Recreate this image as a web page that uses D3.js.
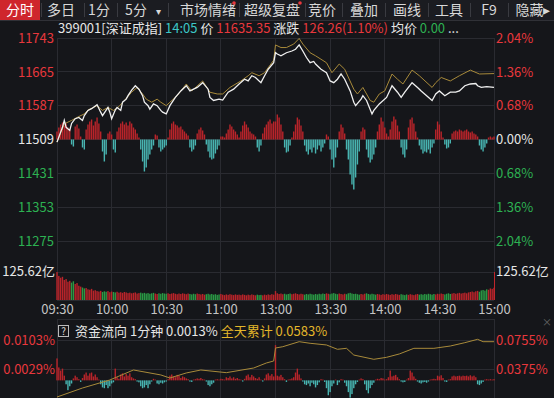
<!DOCTYPE html>
<html>
<head>
<meta charset="utf-8">
<script src="https://cdn.jsdelivr.net/npm/d3@7"></script>
<style>
body { margin: 0; background: #15161a; }
svg { display: block; }
text { font-family: "Noto Sans CJK SC", "Noto Sans", sans-serif; }
</style>
</head>
<body>
<div id="chart"></div>
<script>
// ---- data ----
var priceTicks = [11743, 11665, 11587, 11509, 11431, 11353, 11275];
var pctTicks = [2.04, 1.36, 0.68, 0, -0.68, -1.36, -2.04];
var timeIdx = [0, 30, 60, 90, 120, 150, 180, 210, 240];
var timeLabels = ["09:30", "10:00", "10:30", "11:00", "13:00", "13:30", "14:00", "14:30", "15:00"];
var flowTicks = [0.0103, 0.0029];
var cumTicks = [0.0755, 0.0375];

// [minute index, price]
var pricePts = [[0,11503],[2,11526],[3,11537],[4,11553],[5,11537],[7,11530],[8,11546],[10,11557],[12,11560],[14,11553],
  [15,11564],[17,11576],[19,11580],[22,11589],[24,11572],[25,11564],[28,11583],[29,11572],[30,11557],[32,11577],
  [33,11583],[35,11576],[36,11595],[38,11602],[39,11610],[41,11623],[43,11633],[45,11625],[47,11610],[48,11595],
  [50,11587],[51,11579],[53,11591],[55,11587],[57,11576],[58,11572],[60,11568],[62,11587],[65,11606],[68,11621],
  [71,11633],[73,11621],[77,11629],[80,11640],[83,11625],[84,11606],[86,11599],[89,11602],[91,11600],[94,11618],
  [97,11625],[100,11637],[103,11648],[105,11644],[107,11656],[109,11652],[112,11640],[114,11656],[116,11671],[119,11686],
  [120,11709],[121,11706],[123,11702],[126,11709],[129,11713],[131,11717],[133,11727],[135,11713],[137,11698],[139,11686],
  [141,11689],[142,11683],[145,11671],[148,11663],[150,11644],[152,11640],[154,11648],[156,11660],[158,11648],[161,11621],
  [163,11595],[164,11587],[167,11602],[168,11610],[170,11599],[173,11568],[174,11576],[177,11591],[181,11606],[184,11633],
  [187,11618],[189,11606],[191,11618],[195,11640],[198,11629],[200,11621],[203,11610],[206,11599],[208,11614],[210,11621],
  [213,11610],[216,11618],[219,11618],[221,11621],[224,11633],[227,11637],[230,11638],[231,11633],[233,11629],[236,11631],[240,11629]];

var leadPts = [[0,11503],[2,11524],[4,11545],[8,11553],[12,11562],[15,11568],[17,11577],[22,11587],[25,11576],[28,11583],
  [31,11576],[34,11585],[37,11599],[41,11618],[44,11629],[47,11614],[49,11602],[52,11595],[55,11602],[57,11595],
  [60,11587],[62,11595],[66,11610],[71,11637],[74,11621],[80,11644],[84,11618],[88,11614],[91,11614],[95,11629],
  [101,11644],[105,11656],[107,11663],[111,11656],[114,11663],[119,11692],[120,11727],[123,11721],[126,11721],[130,11729],
  [133,11742],[135,11729],[139,11709],[142,11702],[148,11686],[151,11663],[155,11683],[158,11671],[163,11625],[165,11614],
  [168,11629],[172,11599],[174,11595],[177,11614],[180,11621],[184,11660],[187,11648],[190,11637],[195,11669],[199,11656],
  [206,11629],[208,11640],[211,11652],[216,11644],[221,11656],[227,11669],[232,11660],[240,11661]];

// buy/sell force bars, one per minute
var forceBars = [8,12,15,17,14,16,12,10,-5,-7,13,15,11,3,-8,-10,10,15,18,20,14,18,22,16,8,-12,-22,-15,6,8,5,-10,-13,
  8,12,16,18,15,17,14,18,16,12,10,6,2,-10,-22,-32,-28,-20,-15,-10,-6,5,4,-8,-12,-10,-8,-6,2,
  10,16,18,15,14,12,13,10,8,6,4,-8,-12,-10,-6,6,10,12,9,5,-5,-12,-18,-20,-19,-14,-10,-6,3,3,2,
  6,10,15,13,10,8,5,2,8,14,18,15,12,8,6,5,3,-8,-12,-6,6,12,15,18,20,16,18,
  18,25,22,15,8,-8,-13,-12,-6,2,8,15,22,20,14,8,-6,-12,-15,-10,-13,-8,-14,-10,-6,-12,-8,-4,5,3,
  -10,-20,-28,-18,-8,8,15,12,6,-10,-20,-35,-45,-50,-38,-25,-12,8,12,10,-10,-18,-23,-20,-15,-8,
  8,15,22,18,12,6,3,10,18,23,20,14,8,-8,-15,-18,-10,12,20,22,16,8,2,-6,-10,-14,-12,-13,-10,-14,-8,-4,
  10,18,15,8,2,-5,-9,-8,-4,6,8,9,8,10,9,8,9,10,8,7,8,6,5,3,-6,-10,-12,-8,-4,2,3,2,3];

// volume per minute, 亿
var volume = [125.62,108,100,104,90,94,82,86,78,84,72,76,64,60,56,52,54,48,46,50,
  42,44,40,38,41,36,39,37,40,35,38,36,34,37,33,35,32,36,34,31,
  33,30,32,34,29,31,33,30,32,29,31,28,30,32,29,27,30,28,31,29,
  28,30,27,29,31,28,26,29,27,30,28,26,29,27,25,28,26,29,27,25,
  27,24,26,28,25,27,24,26,23,25,27,24,22,25,23,26,24,22,25,23,
  24,22,25,23,21,24,22,25,23,21,24,22,23,21,24,22,25,23,26,24,
  40,30,27,29,26,28,25,27,29,26,28,30,27,25,28,26,24,27,25,28,
  26,24,27,25,28,26,29,27,30,28,26,29,31,28,26,29,27,25,28,26,
  30,32,29,27,28,26,24,27,25,28,30,27,25,28,26,24,27,25,23,26,
  24,27,25,23,26,24,27,25,23,26,24,22,25,23,26,24,22,25,27,24,
  26,24,27,25,28,26,24,27,25,28,26,29,27,25,28,30,27,29,31,28,
  30,32,29,31,33,30,34,36,38,35,39,41,37,43,45,42,48,46,52,50,55];

// 资金流向 per minute, in 0.0001%
var flowBars = [56,33,25,30,12,-10,-25,-15,-8,5,12,8,3,-4,6,15,20,12,18,20,10,15,8,2,-10,-18,-20,-12,-20,-15,
  -8,-5,30,8,4,15,18,10,16,12,18,8,5,3,-3,-5,-15,-20,-18,-12,-20,-10,-3,4,2,-8,-10,-6,-8,-5,
  -3,3,12,15,10,8,14,12,6,10,8,5,3,-3,-4,2,3,5,4,6,3,2,-3,-12,-15,-10,-6,2,3,2,
  4,3,2,8,6,10,5,8,4,6,3,2,-3,4,12,15,8,14,10,6,4,8,2,-3,5,15,18,12,16,10,
  90,12,10,14,8,3,-4,2,3,5,8,20,30,15,5,-3,-10,-12,-8,-15,-6,-10,-18,-12,-5,3,2,-4,-20,-38,
  -30,-15,-8,2,-12,-5,3,2,-6,-15,-30,-44,-35,-20,-10,-4,2,5,3,-10,-25,-33,-20,-12,-6,2,4,3,6,5,
  2,3,8,25,10,12,14,8,3,-3,-5,-4,2,6,25,20,10,4,-3,-6,-8,-5,-4,-6,-3,2,3,4,3,12,
  10,13,6,-3,-4,2,3,10,12,10,11,12,10,12,11,12,10,13,10,12,8,-10,-12,-8,-4,2,3,2,3,2,3];

// 全天累计, %
var cumPts = [[0,0.0008],[14,0.0126],[29,0.0231],[42,0.0362],[57,0.0297],[62,0.0257],[71,0.0323],[79,0.0362],
  [93,0.0327],[108,0.0388],[115,0.0454],[119,0.0480],[120,0.0650],[124,0.0667],[133,0.0733],[139,0.0712],
  [148,0.0690],[154,0.0633],[159,0.0646],[163,0.0558],[174,0.0502],[181,0.0528],[188,0.0572],[196,0.0646],
  [207,0.0646],[216,0.0676],[224,0.0720],[231,0.0764],[234,0.0733],[240,0.0733]];

var tabs = [["分时",20],["多日",61],["1分",99],["5分",136],["▾",158],["市场情绪",208],["超级复盘",272],
  ["竞价",322],["叠加",364],["画线",407],["工具",449],["F9",489],["隐藏▸",533]];
var tabSeps = [41, 84, 117, 168, 239, 305, 342, 385, 428, 470, 508];

// ---- colours ----
var RED = "#e8383d", GREEN = "#2db152", WHITE = "#e6e6e6", GRID = "#2a2b31";
var BAR_RED = "#b9242a", BAR_TEAL = "#48b4b1", VOL_GREEN = "#2a9a45";
var BW = 1.4;

var W = 554, H = 398;
var svg = d3.select("#chart").append("svg").attr("width", W).attr("height", H);
svg.append("rect").attr("width", W).attr("height", H).attr("fill", "#15161a");

var x = d3.scaleLinear().domain([0, 240]).range([57, 494]);
var yPrice = d3.scaleLinear().domain([11275, 11743]).range([241, 38]);
var yPct = d3.scaleLinear().domain([-2.04, 2.04]).range([241, 38]);
var base = yPrice(11509);
var yBar = d3.scaleLinear().domain([-50, 50]).range([base + 50, base - 50]);
var yVol = d3.scaleLinear().domain([0, 125.62]).range([300, 272]);
var yFlow = d3.scaleLinear().domain([0.0029, 0.0103]).range([369, 340]);
var yCum = d3.scaleLinear().domain([0.0375, 0.0755]).range([369, 340]);

// toolbar
svg.append("rect").attr("width", W).attr("height", 20).attr("fill", "#1b1c21");
svg.append("line").attr("x1", 0).attr("x2", W).attr("y1", 20.5).attr("y2", 20.5).attr("stroke", "#303137");
svg.append("rect").attr("width", 40).attr("height", 20).attr("fill", "#cf262c");
svg.selectAll(".sep").data(tabSeps).enter().append("line")
  .attr("x1", function(d) { return d + 0.5; }).attr("x2", function(d) { return d + 0.5; })
  .attr("y1", 3).attr("y2", 17).attr("stroke", "#3a3b41");
svg.selectAll(".tab").data(tabs).enter().append("text")
  .attr("x", function(d) { return d[1]; }).attr("y", 15)
  .attr("text-anchor", "middle").attr("font-size", function(d) { return d[0] == "▾" ? 10 : 14; })
  .attr("fill", function(d, i) { return i == 0 ? "#fff" : "#d8d8d8"; })
  .text(function(d) { return d[0]; });
[234, 300].forEach(function(cx) {
  svg.append("circle").attr("cx", cx).attr("cy", 3).attr("r", 1.8).attr("fill", "#e8383d");
});

// info line
var info = svg.append("text").attr("x", 58).attr("y", 33).attr("font-size", 13);
[["399001[深证成指] ", WHITE], ["14:05 ", "#3cc7c7"], ["价 ", WHITE], ["11635.35 ", RED], ["涨跌 ", WHITE],
 ["126.26(1.10%) ", RED], ["均价 ", WHITE], ["0.00 ", GREEN], ["...", WHITE]].forEach(function(p) {
  info.append("tspan").attr("fill", p[1]).text(p[0]);
});

// grid
var grid = svg.append("g").attr("stroke", GRID).attr("shape-rendering", "crispEdges");
priceTicks.forEach(function(t) {
  grid.append("line").attr("x1", 57).attr("x2", 494).attr("y1", yPrice(t)).attr("y2", yPrice(t));
});
[272, 300, 319, 340, 369].forEach(function(y) {
  grid.append("line").attr("x1", 57).attr("x2", 494).attr("y1", y).attr("y2", y);
});
timeIdx.forEach(function(t) {
  grid.append("line").attr("x1", x(t)).attr("x2", x(t)).attr("y1", 38).attr("y2", 300);
  grid.append("line").attr("x1", x(t)).attr("x2", x(t)).attr("y1", 319).attr("y2", H);
});

// force bars
svg.append("g").selectAll("rect").data(forceBars).enter().append("rect")
  .attr("x", function(d, i) { return x(i) - BW / 2; }).attr("width", BW)
  .attr("y", function(d) { return Math.min(yBar(d), yBar(0)); })
  .attr("height", function(d) { return Math.abs(yBar(d) - yBar(0)); })
  .attr("fill", function(d) { return d >= 0 ? BAR_RED : BAR_TEAL; });

// price lines
var line = d3.line().x(function(d) { return x(d[0]); }).y(function(d) { return yPrice(d[1]); });
svg.append("path").datum(leadPts).attr("d", line).attr("fill", "none").attr("stroke", "#a88a3a").attr("stroke-width", 1);
svg.append("path").datum(pricePts).attr("d", line).attr("fill", "none").attr("stroke", "#f0f0f0").attr("stroke-width", 1.3);

// axes
var axL = svg.append("g").attr("transform", "translate(57,0)")
  .call(d3.axisLeft(yPrice).tickValues(priceTicks).tickSize(0).tickPadding(3).tickFormat(d3.format("d")));
axL.select(".domain").remove();
axL.selectAll("text").attr("font-size", 13).attr("font-family", null)
  .attr("fill", function(d) { return d > 11509 ? RED : (d < 11509 ? GREEN : WHITE); });

var axR = svg.append("g").attr("transform", "translate(494,0)")
  .call(d3.axisRight(yPct).tickValues(pctTicks).tickSize(0).tickPadding(2)
    .tickFormat(function(d) { return Math.abs(d).toFixed(2) + "%"; }));
axR.select(".domain").remove();
axR.selectAll("text").attr("font-size", 13).attr("font-family", null)
  .attr("fill", function(d) { return d > 0 ? RED : (d < 0 ? GREEN : WHITE); });

// volume
svg.append("g").selectAll("rect").data(volume).enter().append("rect")
  .attr("x", function(d, i) { return x(i) - BW / 2; }).attr("width", BW)
  .attr("y", function(d) { return yVol(d); })
  .attr("height", function(d) { return yVol(0) - yVol(d); })
  .attr("fill", function(d, i) { return forceBars[i] >= 0 ? BAR_RED : VOL_GREEN; });
svg.append("line").attr("x1", 494.5).attr("x2", 494.5).attr("y1", 272).attr("y2", 300).attr("stroke", "#c0262c");
svg.append("text").attr("x", 55).attr("y", 276).attr("text-anchor", "end").attr("font-size", 13)
  .attr("fill", WHITE).text("125.62亿");
svg.append("text").attr("x", 496).attr("y", 276).attr("font-size", 13).attr("fill", WHITE).text("125.62亿");

// time axis
var axT = svg.append("g").attr("transform", "translate(0,300)")
  .call(d3.axisBottom(x).tickValues(timeIdx).tickSize(0).tickPadding(5)
    .tickFormat(function(d, i) { return timeLabels[i]; }));
axT.select(".domain").remove();
axT.selectAll("text").attr("font-size", 13).attr("font-family", null).attr("fill", "#c4c4c4");

// bottom panel: 资金流向
svg.append("rect").attr("x", 58.5).attr("y", 325.5).attr("width", 10).attr("height", 11)
  .attr("fill", "none").attr("stroke", "#bbb");
svg.append("text").attr("x", 63.5).attr("y", 335).attr("text-anchor", "middle").attr("font-size", 10)
  .attr("fill", "#ddd").text("?");
var head = svg.append("text").attr("x", 75).attr("y", 336).attr("font-size", 13);
[["资金流向 1分钟 0.0013% ", WHITE], ["全天累计 0.0583%", "#e3b62a"]].forEach(function(p) {
  head.append("tspan").attr("fill", p[1]).text(p[0]);
});
svg.append("text").attr("x", 547).attr("y", 326).attr("text-anchor", "middle").attr("font-size", 10)
  .attr("fill", "#666").text("×");

svg.append("g").selectAll("rect").data(flowBars).enter().append("rect")
  .attr("x", function(d, i) { return x(i) - BW / 2; }).attr("width", BW)
  .attr("y", function(d) { return Math.min(yFlow(d / 10000), yFlow(0)); })
  .attr("height", function(d) { return Math.abs(yFlow(d / 10000) - yFlow(0)); })
  .attr("fill", function(d) { return d >= 0 ? BAR_RED : BAR_TEAL; });

var cumLine = d3.line().x(function(d) { return x(d[0]); }).y(function(d) { return yCum(d[1]); });
svg.append("path").datum(cumPts).attr("d", cumLine).attr("fill", "none").attr("stroke", "#a88a3a").attr("stroke-width", 1);

var axFL = svg.append("g").attr("transform", "translate(57,0)")
  .call(d3.axisLeft(yFlow).tickValues(flowTicks).tickSize(0).tickPadding(2)
    .tickFormat(function(d) { return d.toFixed(4) + "%"; }));
axFL.select(".domain").remove();
axFL.selectAll("text").attr("font-size", 13).attr("font-family", null).attr("fill", RED);

var axCR = svg.append("g").attr("transform", "translate(494,0)")
  .call(d3.axisRight(yCum).tickValues(cumTicks).tickSize(0).tickPadding(2)
    .tickFormat(function(d) { return d.toFixed(4) + "%"; }));
axCR.select(".domain").remove();
axCR.selectAll("text").attr("font-size", 13).attr("font-family", null).attr("fill", RED);
</script>
</body>
</html>
